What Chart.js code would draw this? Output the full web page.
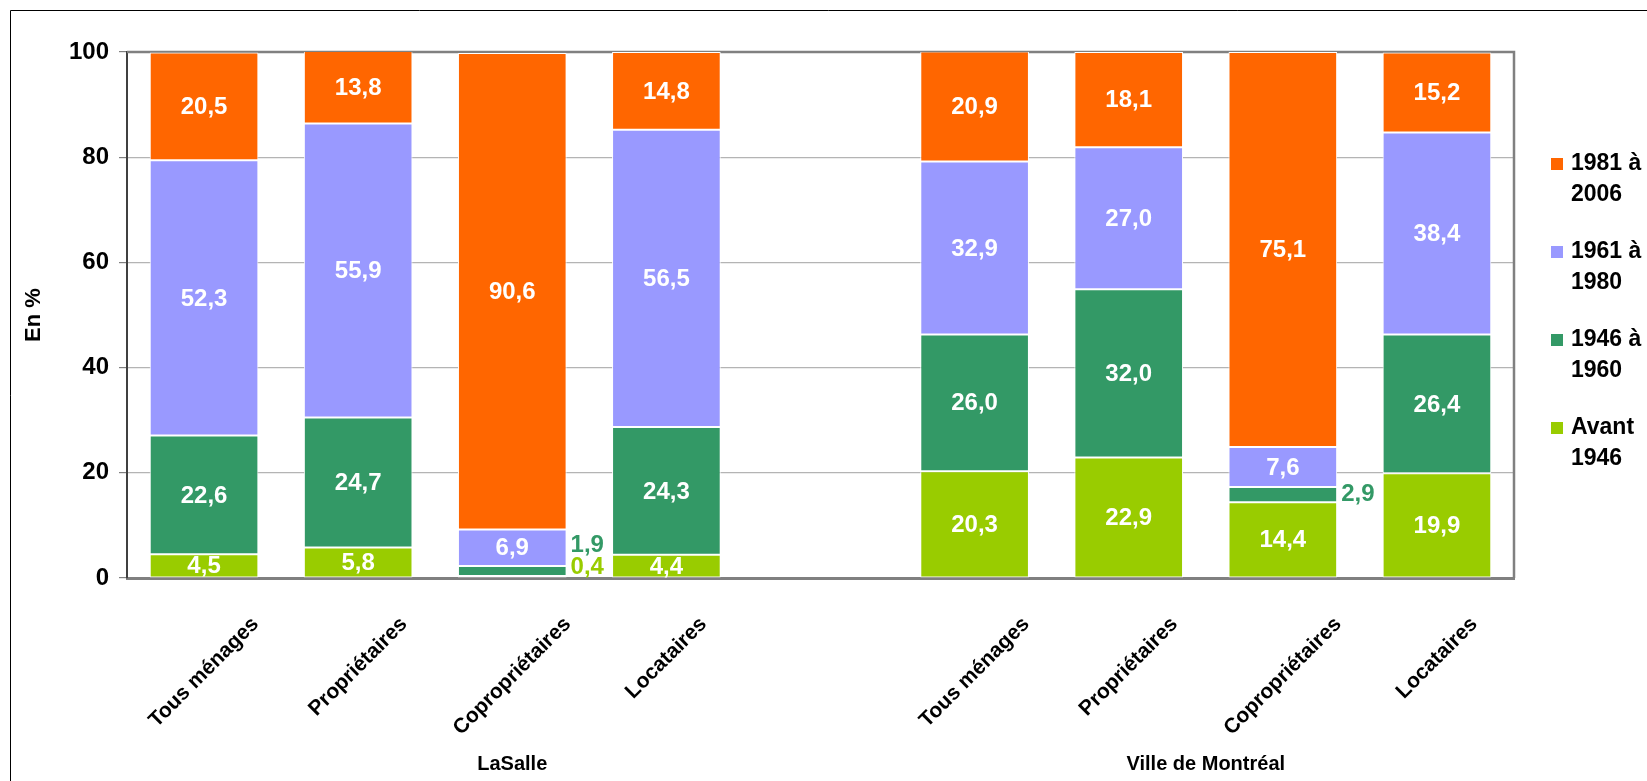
<!DOCTYPE html>
<html lang="fr">
<head>
    <meta charset="UTF-8">
    <title>Période de construction des logements</title>
    <script src="https://cdn.jsdelivr.net/npm/chart.js"></script>
    <style>
        body {
            margin: 0;
            background-color: #fff;
        }
        canvas {
            display: block;
        }
    </style>
</head>
<body>
    <canvas id="periodChart" width="1647" height="781"></canvas>

    <script>
        // categories (the empty slot separates the two territories)
        const categories = ['Tous ménages', 'Propriétaires', 'Copropriétaires', 'Locataires', '',
                            'Tous ménages', 'Propriétaires', 'Copropriétaires', 'Locataires'];
        const groupNames = ['LaSalle', 'Ville de Montréal'];
        const groupFirst = [0, 5];
        const groupLast = [4, 8];

        const seriesNames = ['Avant 1946', '1946 à 1960', '1961 à 1980', '1981 à 2006'];
        const seriesColors = ['#99CC00', '#339966', '#9999FF', '#FF6600'];

        const avant1946 = [4.5, 5.8, 0.4, 4.4, null, 20.3, 22.9, 14.4, 19.9];
        const from1946 = [22.6, 24.7, 1.9, 24.3, null, 26.0, 32.0, 2.9, 26.4];
        const from1961 = [52.3, 55.9, 6.9, 56.5, null, 32.9, 27.0, 7.6, 38.4];
        const from1981 = [20.5, 13.8, 90.6, 14.8, null, 20.9, 18.1, 75.1, 15.2];

        const yTicks = [0, 20, 40, 60, 80, 100];

        const FONT = '"Liberation Sans", Arial, sans-serif';

        function fmt(v) {
            return v.toFixed(1).replace('.', ',');
        }

        // white page, outer frame (top and left only, the picture is cut), top/right plot border
        const framePlugin = {
            id: 'frame',
            beforeDraw(chart) {
                const ctx = chart.ctx;
                ctx.save();
                ctx.fillStyle = '#fff';
                ctx.fillRect(0, 0, chart.width, chart.height);
                ctx.strokeStyle = '#000';
                ctx.lineWidth = 1;
                ctx.beginPath();
                ctx.moveTo(10.5, chart.height);
                ctx.lineTo(10.5, 10.5);
                ctx.lineTo(chart.width, 10.5);
                ctx.stroke();
                ctx.restore();
            },
            beforeDatasetsDraw(chart) {
                const ctx = chart.ctx;
                const a = chart.chartArea;
                ctx.save();
                ctx.strokeStyle = '#808080';
                ctx.lineWidth = 2.5;
                ctx.beginPath();
                ctx.moveTo(a.left, a.top);
                ctx.lineTo(a.right, a.top);
                ctx.lineTo(a.right, a.bottom);
                ctx.stroke();
                ctx.restore();
            }
        };

        // values inside the segments, small ones beside the bar
        const valueLabels = {
            id: 'valueLabels',
            afterDatasetsDraw(chart) {
                const ctx = chart.ctx;
                const lastY = {};
                ctx.save();
                ctx.font = 'bold 24px ' + FONT;
                ctx.textBaseline = 'middle';
                chart.data.datasets.forEach((ds, i) => {
                    const meta = chart.getDatasetMeta(i);
                    meta.data.forEach((bar, j) => {
                        const v = ds.data[j];
                        if (v == null) return;
                        const p = bar.getProps(['x', 'y', 'base', 'width'], true);
                        const h = p.base - p.y;
                        const mid = (p.y + p.base) / 2;
                        if (h > 18) {
                            ctx.fillStyle = '#fff';
                            ctx.textAlign = 'center';
                            ctx.fillText(fmt(v), p.x, mid + 1);
                        } else {
                            let ty = Math.min(mid, chart.chartArea.bottom - 11);
                            if (lastY[j] !== undefined) ty = Math.min(ty, lastY[j] - 22);
                            lastY[j] = ty;
                            ctx.fillStyle = ds.backgroundColor;
                            ctx.textAlign = 'left';
                            ctx.fillText(fmt(v), p.x + p.width / 2 + 4, ty);
                        }
                    });
                });
                ctx.restore();
            }
        };

        // rotated category names, each centred under its bar, then group names
        const axisLabels = {
            id: 'axisLabels',
            afterDraw(chart) {
                const ctx = chart.ctx;
                const x = chart.scales.x;
                ctx.save();
                ctx.fillStyle = '#000';
                ctx.font = 'bold 21px ' + FONT;
                ctx.textAlign = 'right';
                ctx.textBaseline = 'middle';
                categories.forEach((name, i) => {
                    if (!name) return;
                    const w = ctx.measureText(name).width;
                    const ax = x.getPixelForValue(i) + w * Math.SQRT1_2 / 2;
                    ctx.save();
                    ctx.translate(ax, 621);
                    ctx.rotate(-Math.PI / 4);
                    ctx.fillText(name, 0, 0);
                    ctx.restore();
                });
                ctx.font = 'bold 20px ' + FONT;
                ctx.textAlign = 'center';
                groupNames.forEach((name, g) => {
                    const cx = (x.getPixelForValue(groupFirst[g]) + x.getPixelForValue(groupLast[g])) / 2;
                    ctx.fillText(name, cx, 764);
                });
                ctx.restore();
            }
        };

        // legend on the right, two lines per entry, newest period first
        const sideLegend = {
            id: 'sideLegend',
            afterDraw(chart) {
                const ctx = chart.ctx;
                const left = chart.chartArea.right + 37;
                ctx.save();
                ctx.font = 'bold 23px ' + FONT;
                ctx.textBaseline = 'middle';
                ctx.textAlign = 'left';
                const sets = chart.data.datasets.slice().reverse();
                sets.forEach((ds, k) => {
                    const y = 164 + k * 88;
                    const cut = ds.label.lastIndexOf(' ');
                    ctx.fillStyle = ds.backgroundColor;
                    ctx.fillRect(left, y - 6, 12, 12);
                    ctx.fillStyle = '#000';
                    ctx.fillText(ds.label.slice(0, cut), left + 20, y);
                    ctx.fillText(ds.label.slice(cut + 1), left + 20, y + 31);
                });
                ctx.restore();
            }
        };

        const seriesData = [avant1946, from1946, from1961, from1981];

        new Chart(document.getElementById('periodChart'), {
            type: 'bar',
            data: {
                labels: categories,
                datasets: seriesNames.map((name, i) => ({
                    label: name,
                    data: seriesData[i],
                    backgroundColor: seriesColors[i],
                    borderColor: '#fff',
                    borderWidth: 1,
                    borderSkipped: false,
                    categoryPercentage: 1,
                    barPercentage: 0.705
                }))
            },
            options: {
                responsive: false,
                animation: false,
                layout: {
                    padding: { top: 52, right: 133, bottom: 0, left: 0 }
                },
                plugins: {
                    legend: { display: false },
                    tooltip: { enabled: false }
                },
                scales: {
                    x: {
                        stacked: true,
                        grid: { display: false, drawTicks: false },
                        border: { color: '#808080', width: 3 },
                        ticks: { display: false },
                        afterFit(scale) {
                            scale.height = 203;
                        }
                    },
                    y: {
                        stacked: true,
                        min: 0,
                        max: 100,
                        afterBuildTicks(scale) {
                            scale.ticks = yTicks.map(v => ({ value: v }));
                        },
                        grid: {
                            color: '#b4b4b4',
                            tickColor: '#808080',
                            tickLength: 8,
                            lineWidth: 1.2
                        },
                        border: { color: '#404040', width: 2 },
                        ticks: {
                            padding: 10,
                            color: '#000',
                            font: { family: FONT, size: 24, weight: 'bold' }
                        },
                        title: {
                            display: true,
                            text: 'En %',
                            color: '#000',
                            padding: { top: 21, bottom: 0 },
                            font: { family: FONT, size: 22, weight: 'bold' }
                        },
                        afterFit(scale) {
                            scale.width = 127;
                        }
                    }
                }
            },
            plugins: [framePlugin, valueLabels, axisLabels, sideLegend]
        });
    </script>
</body>
</html>
